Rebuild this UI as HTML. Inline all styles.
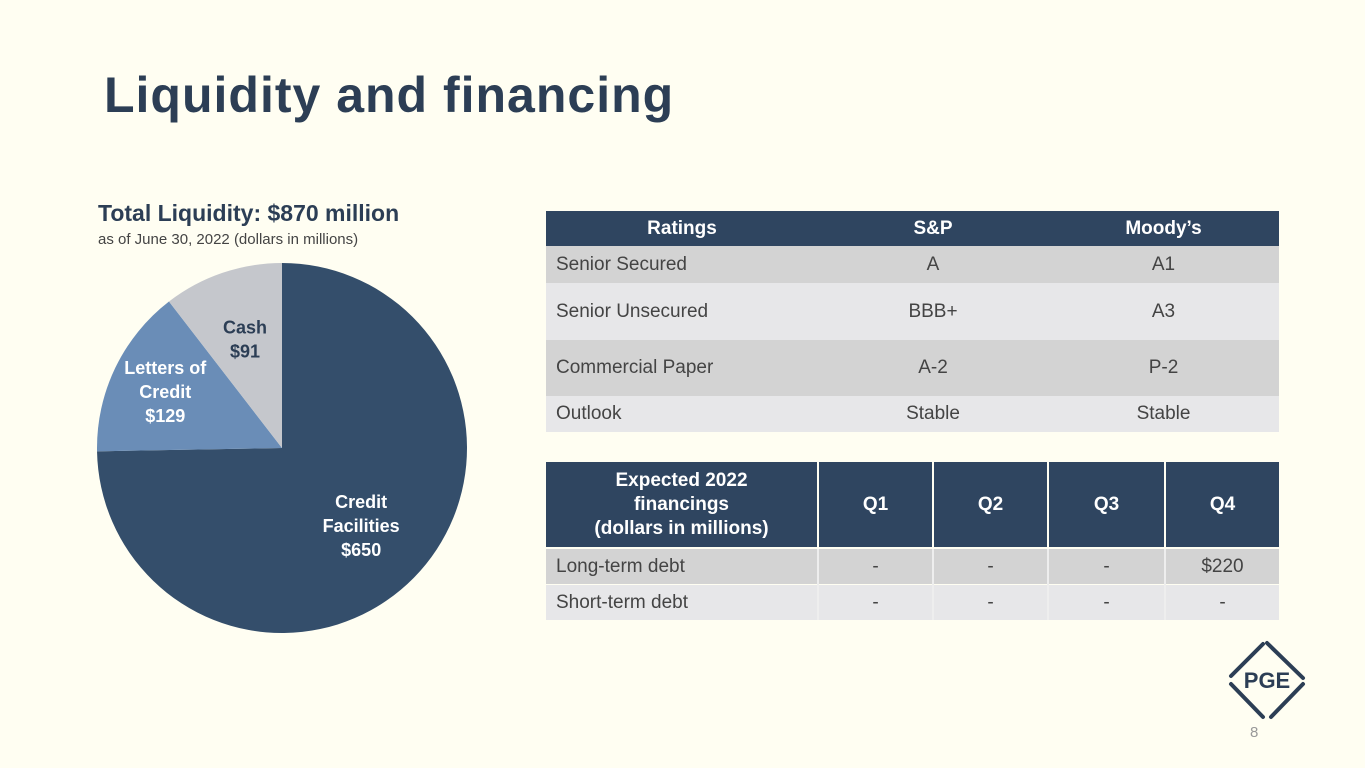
<!DOCTYPE html>
<html><head><meta charset="utf-8"><style>
*{margin:0;padding:0;box-sizing:border-box}
body{width:1365px;height:768px;background:#fffef2;font-family:"Liberation Sans",sans-serif;position:relative;overflow:hidden}
.a{position:absolute}
.c{position:absolute;display:flex;align-items:center;justify-content:center;font-size:19px;color:#444}
.l{justify-content:flex-start;padding-left:10px}
.h{background:#2f4560;color:#fff;font-weight:bold;font-size:19px;text-align:center;line-height:24px}
</style></head><body>
<div class="a" style="left:104px;top:66px;font-size:50px;font-weight:bold;color:#2c3e55;letter-spacing:1px">Liquidity and financing</div>
<div class="a" style="left:98px;top:200px;font-size:23px;font-weight:bold;color:#2c3e55">Total Liquidity: $870 million</div>
<div class="a" style="left:98px;top:231px;font-size:15px;color:#444">as of June 30, 2022 (dollars in millions)</div>
<svg class="a" id="pie" style="left:0;top:0" width="560" height="768"></svg>

<div>
<div class="c h" style="left:546px;top:211px;width:272px;height:35px">Ratings</div>
<div class="c h" style="left:818px;top:211px;width:230px;height:35px">S&amp;P</div>
<div class="c h" style="left:1048px;top:211px;width:231px;height:35px">Moody’s</div>
<div class="a" style="left:546px;top:246px;width:733px;height:37px;background:#d3d3d3"></div>
<div class="a" style="left:546px;top:283px;width:733px;height:57px;background:#e7e7e9"></div>
<div class="a" style="left:546px;top:340px;width:733px;height:56px;background:#d3d3d3"></div>
<div class="a" style="left:546px;top:396px;width:733px;height:36px;background:#e7e7e9"></div>
<div class="c l" style="left:546px;top:246px;width:272px;height:37px">Senior Secured</div>
<div class="c" style="left:818px;top:246px;width:230px;height:37px">A</div>
<div class="c" style="left:1048px;top:246px;width:231px;height:37px">A1</div>
<div class="c l" style="left:546px;top:283px;width:272px;height:57px">Senior Unsecured</div>
<div class="c" style="left:818px;top:283px;width:230px;height:57px">BBB+</div>
<div class="c" style="left:1048px;top:283px;width:231px;height:57px">A3</div>
<div class="c l" style="left:546px;top:340px;width:272px;height:56px">Commercial Paper</div>
<div class="c" style="left:818px;top:340px;width:230px;height:56px">A-2</div>
<div class="c" style="left:1048px;top:340px;width:231px;height:56px">P-2</div>
<div class="c l" style="left:546px;top:396px;width:272px;height:36px">Outlook</div>
<div class="c" style="left:818px;top:396px;width:230px;height:36px">Stable</div>
<div class="c" style="left:1048px;top:396px;width:231px;height:36px">Stable</div>
</div>

<div>
<div class="c h" style="left:546px;top:462px;width:271px;height:85px">Expected 2022<br>financings<br>(dollars in millions)</div>
<div class="c h" style="left:819px;top:462px;width:113px;height:85px">Q1</div>
<div class="c h" style="left:934px;top:462px;width:113px;height:85px">Q2</div>
<div class="c h" style="left:1049px;top:462px;width:115px;height:85px">Q3</div>
<div class="c h" style="left:1166px;top:462px;width:113px;height:85px">Q4</div>
<div class="a" style="left:546px;top:549px;width:733px;height:35px;background:#d3d3d3"></div>
<div class="a" style="left:546px;top:585px;width:733px;height:35px;background:#e7e7e9"></div>
<div class="a" style="left:817px;top:549px;width:2px;height:71px;background:#eee"></div>
<div class="a" style="left:932px;top:549px;width:2px;height:71px;background:#eee"></div>
<div class="a" style="left:1047px;top:549px;width:2px;height:71px;background:#eee"></div>
<div class="a" style="left:1164px;top:549px;width:2px;height:71px;background:#eee"></div>
<div class="c l" style="left:546px;top:549px;width:271px;height:35px">Long-term debt</div>
<div class="c" style="left:819px;top:549px;width:113px;height:35px">-</div>
<div class="c" style="left:934px;top:549px;width:113px;height:35px">-</div>
<div class="c" style="left:1049px;top:549px;width:115px;height:35px">-</div>
<div class="c" style="left:1166px;top:549px;width:113px;height:35px">$220</div>
<div class="c l" style="left:546px;top:585px;width:271px;height:35px">Short-term debt</div>
<div class="c" style="left:819px;top:585px;width:113px;height:35px">-</div>
<div class="c" style="left:934px;top:585px;width:113px;height:35px">-</div>
<div class="c" style="left:1049px;top:585px;width:115px;height:35px">-</div>
<div class="c" style="left:1166px;top:585px;width:113px;height:35px">-</div>
</div>

<svg class="a" style="left:1225px;top:638px" width="84" height="84">
<g stroke="#2c3e55" stroke-width="4" stroke-linecap="round" fill="none">
<line x1="42" y1="5" x2="78" y2="40"/><line x1="78" y1="46" x2="46" y2="79"/>
<line x1="38" y1="79" x2="6" y2="46"/><line x1="6" y1="38" x2="38" y2="6"/></g>
<text x="42" y="50" text-anchor="middle" font-family="Liberation Sans" font-weight="bold" font-size="22" fill="#2c3e55">PGE</text>
</svg>
<div class="a" style="left:1250px;top:724px;font-size:15px;color:#999">8</div>

<script>
const labels=[["Credit","Facilities","$650"],["Letters of","Credit","$129"],["Cash","$91"]];
const values=[650,129,91];
const colors=["#344e6b","#6a8db7","#c5c7cc"];
const cx=282,cy=448,r=185;
const svg=document.getElementById('pie');
const ns="http://www.w3.org/2000/svg";
const total=values.reduce((a,b)=>a+b,0);
const pt=(a,rr)=>[cx+rr*Math.sin(a),cy-rr*Math.cos(a)];
const labelR=[0.6,0.7,0.62];
let start=0;
values.forEach((v,i)=>{
 const sweep=v/total*2*Math.PI,end=start+sweep;
 const [x1,y1]=pt(start,r),[x2,y2]=pt(end,r);
 const p=document.createElementNS(ns,'path');
 p.setAttribute('d',`M${cx},${cy}L${x1},${y1}A${r},${r} 0 ${sweep>Math.PI?1:0} 1 ${x2},${y2}Z`);
 p.setAttribute('fill',colors[i]);
 
 
 svg.appendChild(p);
 const mid=start+sweep/2;
 const [lx,ly]=pt(mid,r*labelR[i]);
 const t=document.createElementNS(ns,'text');
 
 
 t.setAttribute('text-anchor','middle');
 t.setAttribute('font-family','Liberation Sans');
 t.setAttribute('font-weight','bold');
 t.setAttribute('font-size','18');
 t.setAttribute('fill',i==2?'#2c3e55':'#fff');
 const n=labels[i].length;
 labels[i].forEach((s,j)=>{
  const ts=document.createElementNS(ns,'tspan');
  ts.setAttribute('x',lx);
  ts.setAttribute('y',ly+6+(j-(n-1)/2)*24);
  ts.textContent=s;
  t.appendChild(ts);
 });
 svg.appendChild(t);
 start=end;
});
</script>
</body></html>
